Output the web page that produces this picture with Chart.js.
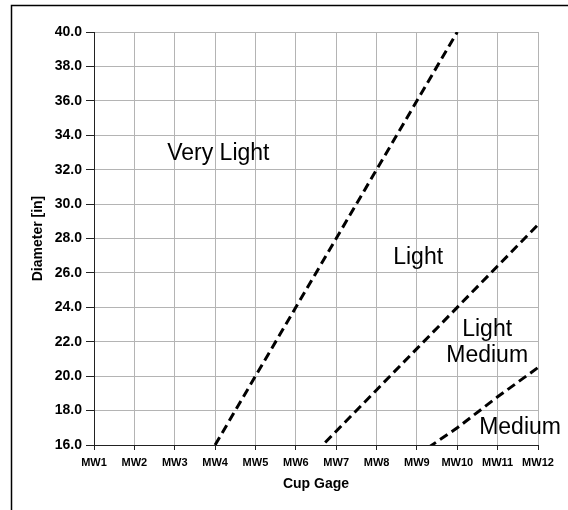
<!DOCTYPE html>
<html>
<head>
<meta charset="utf-8">
<script src="https://cdn.jsdelivr.net/npm/chart.js@4/dist/chart.umd.min.js"></script>
<style>
  html, body { margin: 0; padding: 0; background: #fff; }
  canvas { display: block; }
</style>
</head>
<body>
<canvas id="c" width="568" height="510"></canvas>
<script>
const categories = ['MW1','MW2','MW3','MW4','MW5','MW6','MW7','MW8','MW9','MW10','MW11','MW12'];
const veryLight = [null, null, null, 16, 20, 24, 28, 32, 36, 40, null, null];
const light     = [null, null, null, null, null, 14.4, 16.8, 19.2, 21.6, 24.0, 26.4, 28.8];
const medium    = [null, null, null, null, null, null, null, null, 15.4, 17.0, 18.8, 20.5];
const yMin = 16, yMax = 40, yStep = 2;

// region labels: text, x (category index), y (value at baseline)
const regionText = ['Very Light', 'Light', 'Light', 'Medium', 'Medium'];
const regionX    = [3.08, 8.03, 9.74, 9.74, 10.555];
const regionY    = [32.56, 26.5, 22.33, 20.84, 16.64];

const font = 'Arial, "Liberation Sans", sans-serif';

const frame = {
  id: 'frame',
  beforeDraw(chart) {
    const ctx = chart.ctx;
    ctx.save();
    ctx.fillStyle = '#fff';
    ctx.fillRect(0, 0, chart.width, chart.height);
    ctx.strokeStyle = '#000';
    ctx.lineWidth = 1.5;
    ctx.beginPath();
    ctx.moveTo(11.5, chart.height);
    ctx.lineTo(11.5, 5.5);
    ctx.lineTo(chart.width, 5.5);
    ctx.stroke();
    ctx.restore();
  }
};

const labels = {
  id: 'regionLabels',
  afterDatasetsDraw(chart) {
    const ctx = chart.ctx, xs = chart.scales.x, ys = chart.scales.y;
    ctx.save();
    ctx.fillStyle = '#000';
    ctx.font = '23px ' + font;
    ctx.textAlign = 'center';
    ctx.textBaseline = 'alphabetic';
    for (let i = 0; i < regionText.length; i++) {
      ctx.fillText(regionText[i], xs.getPixelForValue(regionX[i]), ys.getPixelForValue(regionY[i]));
    }
    ctx.restore();
  }
};

function ds(label, data) {
  return {
    label, data,
    borderColor: '#000',
    borderWidth: 3,
    borderDash: [9, 5],
    pointRadius: 0,
    fill: false,
    tension: 0,
    spanGaps: false
  };
}

new Chart(document.getElementById('c'), {
  type: 'line',
  data: {
    labels: categories,
    datasets: [ds('Very Light', veryLight), ds('Light', light), ds('Medium', medium)]
  },
  options: {
    responsive: false,
    devicePixelRatio: 1,
    animation: false,
    layout: { padding: { top: 32, right: 30, left: 0, bottom: 0 } },
    plugins: { legend: { display: false }, tooltip: { enabled: false } },
    scales: {
      x: {
        offset: false,
        grid: { color: '#b4b4b4', lineWidth: 1, tickLength: 5, tickColor: '#222', drawTicks: true },
        border: { color: '#222', width: 1 },
        ticks: { color: '#000', font: { family: font, size: 11, weight: 'bold' }, padding: 6, maxRotation: 0, autoSkip: false },
        title: { display: true, text: 'Cup Gage', color: '#000', font: { family: font, size: 14, weight: 'bold' }, padding: { top: 4, bottom: 17 } },
        afterFit(s) { s.height = 65; }
      },
      y: {
        min: yMin, max: yMax,
        grid: { color: '#b4b4b4', lineWidth: 1, tickLength: 8, tickColor: '#222' },
        border: { color: '#222', width: 1 },
        ticks: { stepSize: yStep, color: '#000', font: { family: font, size: 14, weight: 'bold' }, padding: 4,
                 callback: v => Number(v).toFixed(1) },
        title: { display: true, text: 'Diameter [in]', color: '#000', font: { family: font, size: 14, weight: 'bold' }, padding: { top: 30, bottom: 0 } },
        afterFit(s) { s.width = 94; }
      }
    }
  },
  plugins: [frame, labels]
});
</script>
</body>
</html>
